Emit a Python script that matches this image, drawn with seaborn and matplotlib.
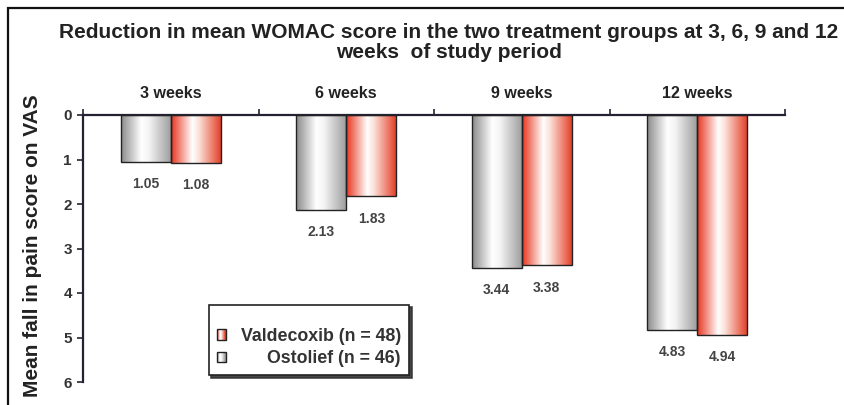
import numpy as np
import pandas as pd
import seaborn as sns
import matplotlib
matplotlib.use("Agg")
import matplotlib.pyplot as plt
from matplotlib.colors import LinearSegmentedColormap
from matplotlib.patches import Rectangle, Patch
from matplotlib.legend_handler import HandlerPatch

# data
weeks = ['3 weeks', '6 weeks', '9 weeks', '12 weeks']
ostolief = [1.05, 2.13, 3.44, 4.83]
valdecoxib = [1.08, 1.83, 3.38, 4.94]
groups = ['Ostolief (n = 46)', 'Valdecoxib (n = 48)']

df = pd.DataFrame({
    'week': weeks * 2,
    'score': ostolief + valdecoxib,
    'group': [groups[0]] * 4 + [groups[1]] * 4,
})

sns.set_style('white')
plt.rcParams['font.family'] = ['Liberation Sans', 'DejaVu Sans']
plt.rcParams['font.weight'] = 'bold'

# cylinder-like shading for the bars
gray_cmap = LinearSegmentedColormap.from_list(
    'grayshade', [(0, '#8a8a8a'), (0.4, '#ffffff'), (0.55, '#f4f4f4'), (1, '#9a9a9a')])
red_cmap = LinearSegmentedColormap.from_list(
    'redshade', [(0, '#e8341e'), (0.42, '#ffffff'), (0.55, '#fbe0d8'), (1, '#e23a22')])

fig = plt.figure(figsize=(8.44, 4.05), dpi=100)
ax = fig.add_axes([83 / 844, 1 - 382 / 405, 702 / 844, 267 / 405])

sns.barplot(data=df, x='week', y='score', hue='group', hue_order=groups,
            palette=['#cccccc', '#f08070'], width=0.57, legend=False,
            edgecolor='#222222', linewidth=1, ax=ax)

grad = np.linspace(0, 1, 256).reshape(1, -1)
for cont, cmap in zip(ax.containers, [gray_cmap, red_cmap]):
    for bar in cont:
        x0 = bar.get_x()
        w = bar.get_width()
        h = bar.get_height()
        ax.imshow(grad, cmap=cmap, extent=[x0, x0 + w, h, 0], aspect='auto',
                  interpolation='bicubic', zorder=2)
        bar.set_facecolor('none')
        bar.set_zorder(3)
        ax.text(x0 + w / 2, h + 0.5, f'{h:.2f}', ha='center', va='center',
                fontsize=10, fontweight='bold', color='#444444')

ax.set_xlim(-0.5, 3.5)
ax.set_ylim(6, 0)
ax.set_yticks(range(7))
ax.tick_params(axis='y', direction='out', length=4, width=1.2, pad=4,
               labelsize=11, labelcolor='#333333', left=True, color='#222233')

ax.xaxis.tick_top()
ax.set_xticks(range(4), weeks)
ax.tick_params(axis='x', which='major', length=0, pad=10, labelsize=11.5,
               labelcolor='#222222')
ax.set_xticks(np.arange(-0.5, 4, 1), minor=True)
ax.tick_params(axis='x', which='minor', top=True, bottom=False, direction='out',
               length=4, width=1.2, color='#222233')
for lab in ax.get_xticklabels() + ax.get_yticklabels():
    lab.set_fontweight('bold')

ax.set_xlabel('')
ax.set_ylabel('Mean fall in pain score on VAS', fontsize=15, fontweight='bold',
              color='#222222')
ax.yaxis.set_label_coords(-0.058, 0.51)

for s in ['right', 'bottom']:
    ax.spines[s].set_visible(False)
for s in ['top', 'left']:
    ax.spines[s].set_color('#222233')
    ax.spines[s].set_linewidth(1.6)


class GradientHandler(HandlerPatch):
    def __init__(self, cmap, **kw):
        super().__init__(**kw)
        self.cmap = cmap

    def create_artists(self, legend, orig_handle, xdescent, ydescent, width,
                       height, fontsize, trans):
        n = 16
        arts = []
        for i in range(n):
            arts.append(Rectangle((-xdescent + width * i / n, -ydescent), width / n, height,
                                  facecolor=self.cmap((i + 0.5) / n), edgecolor='none',
                                  transform=trans))
        arts.append(Rectangle((-xdescent, -ydescent), width, height, facecolor='none',
                              edgecolor='#222222', lw=1, transform=trans))
        return arts


h_val = Patch(label=groups[1])
h_ost = Patch(label=groups[0])
leg = ax.legend(handles=[h_val, h_ost],
                handler_map={h_val: GradientHandler(red_cmap), h_ost: GradientHandler(gray_cmap)},
                loc='lower left', bbox_to_anchor=(0.179, 0.025), borderaxespad=0,
                title=' ', title_fontsize=8, fontsize=12.8, handlelength=0.5,
                handleheight=0.55, handletextpad=0.85, labelspacing=0.3, borderpad=0.45,
                fancybox=False, edgecolor='#222222', framealpha=1,
                shadow={'color': '#333333', 'alpha': 0.9})
leg.get_frame().set_linewidth(1.2)
for t in leg.get_texts():
    t.set_color('#333333')
    t.set_fontweight('bold')

# right-align the legend labels while keeping the swatches in one column
fig.canvas.draw()
renderer = fig.canvas.get_renderer()
title_box, handle_box = leg.get_children()[0].get_children()
rows = handle_box.get_children()[0].get_children()
row_w = max(r.get_bbox(renderer).width for r in rows)
for r in rows:
    r.mode = 'expand'
    r.width = row_w

fig.text(0.532, 0.943,
         'Reduction in mean WOMAC score in the two treatment groups at 3, 6, 9 and 12\n'
         'weeks  of study period',
         ha='center', va='top', fontsize=15, fontweight='bold', color='#222222',
         linespacing=1.05)

# outer frame of the figure panel
fig.patches.append(Rectangle((8 / 844, -0.1), 2, 1 - 7.5 / 405 + 0.1, fill=False,
                             edgecolor='#111111', lw=1.6, transform=fig.transFigure,
                             figure=fig))

fig.savefig('out.png', dpi=100)
